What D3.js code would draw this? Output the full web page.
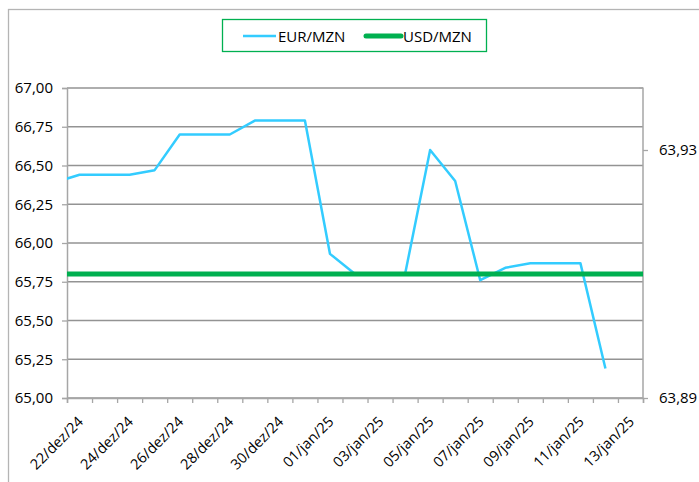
<!DOCTYPE html>
<html>
<head>
<meta charset="utf-8">
<script src="https://cdn.jsdelivr.net/npm/d3@7"></script>
<style>
body{margin:0;background:#fff;}
text{font-family:"Open Sans",sans-serif;fill:#000;}
</style>
</head>
<body>
<script>
// dias (o 21/dez e o 14/jan ficam fora da area visivel, so continuam as linhas)
var days = ["21/dez/24","22/dez/24","23/dez/24","24/dez/24","25/dez/24","26/dez/24","27/dez/24","28/dez/24","29/dez/24","30/dez/24","31/dez/24",
            "01/jan/25","02/jan/25","03/jan/25","04/jan/25","05/jan/25","06/jan/25","07/jan/25","08/jan/25","09/jan/25","10/jan/25","11/jan/25","12/jan/25","13/jan/25","14/jan/25"];
var shownDays = days.slice(1, 24);
var eurValues = [66.39,66.44,66.44,66.44,66.47,66.70,66.70,66.70,66.79,66.79,66.79,
                 65.93,65.80,65.80,65.80,66.60,66.40,65.76,65.84,65.87,65.87,65.87,65.19,null,null];
var usdValues = [63.91,63.91,63.91,63.91,63.91,63.91,63.91,63.91,63.91,63.91,63.91,
                 63.91,63.91,63.91,63.91,63.91,63.91,63.91,63.91,63.91,63.91,63.91,63.91,63.91,63.91];
var leftTicks = [65,65.25,65.5,65.75,66,66.25,66.5,66.75,67];
var rightTicks = [63.89,63.93];
var seriesNames = ["EUR/MZN","USD/MZN"];

var width = 699, height = 482;
var pLeft = 67, pRight = 643, pTop = 88, pBottom = 398;

var pt = d3.formatLocale({decimal:",",thousands:".",grouping:[3],currency:["",""]}).format(".2f");

var svg = d3.select("body").append("svg").attr("width",width).attr("height",height);

// moldura do grafico
svg.append("rect").attr("x",8.5).attr("y",9.5).attr("width",720).attr("height",500)
   .attr("fill","none").attr("stroke","#b4b4b4").attr("stroke-width",1.3);

var step = (pRight-pLeft)/shownDays.length;
var x = d3.scalePoint().domain(days).range([pLeft - 0.5*step, pRight + 0.5*step]);
var xBand = d3.scaleBand().domain(shownDays).range([pLeft,pRight]);
var xEdges = d3.scaleLinear().domain([0,shownDays.length]).range([pLeft,pRight]);
var y = d3.scaleLinear().domain([65,67]).range([pBottom,pTop]);
var y2 = d3.scaleLinear().domain([63.89,63.94]).range([pBottom,pTop]);

svg.append("clipPath").attr("id","plot").append("rect")
   .attr("x",pLeft).attr("y",pTop-10).attr("width",pRight-pLeft).attr("height",pBottom-pTop+20);

// linhas de grelha
svg.append("g").selectAll("line").data(leftTicks).enter().append("line")
   .attr("x1",pLeft).attr("x2",pRight)
   .attr("y1",function(d){return y(d);}).attr("y2",function(d){return y(d);})
   .attr("stroke","#939393").attr("stroke-width",1.5);

// eixo esquerdo
var yAxis = d3.axisLeft(y).tickValues(leftTicks).tickSize(5).tickPadding(9).tickFormat(pt);
var gy = svg.append("g").attr("transform","translate("+pLeft+",0)").call(yAxis);
// eixo direito
var y2Axis = d3.axisRight(y2).tickValues(rightTicks).tickSize(5).tickPadding(11).tickFormat(pt);
var gy2 = svg.append("g").attr("transform","translate("+pRight+",0)").call(y2Axis);
// eixo x (marcas entre categorias)
var xAxis = d3.axisBottom(xEdges).ticks(shownDays.length).tickSize(5).tickFormat("");
var gx = svg.append("g").attr("transform","translate(0,"+pBottom+")").call(xAxis);

[gy,gy2,gx].forEach(function(g){
  g.select(".domain").attr("stroke","#a6a6a6").attr("stroke-width",1.5);
  g.selectAll(".tick line").attr("stroke","#a6a6a6").attr("stroke-width",1.3);
  g.selectAll("text").style("font-family","'Open Sans',sans-serif").style("font-size","15px").attr("fill","#000");
});
gy2.select(".domain").attr("d","M0,"+(pTop-0.5)+"V"+pBottom);
gy2.append("line").attr("x1",-4).attr("x2",0).attr("y1",pTop).attr("y2",pTop).attr("stroke","#a6a6a6");

// rotulos do eixo x
svg.append("g").selectAll("text").data(shownDays.filter(function(d,i){return i%2==0;})).enter().append("text")
   .attr("transform",function(d){return "translate("+(xBand(d)+xBand.bandwidth()/2+1)+",419) rotate(-45)";})
   .attr("text-anchor","end").attr("dy","0.35em")
   .style("font-size","14.5px")
   .text(function(d){return d;});

var plot = svg.append("g").attr("clip-path","url(#plot)");

var lineEur = d3.line().defined(function(d){return d!=null;})
   .x(function(d,i){return x(days[i]);}).y(function(d){return y(d);});
var lineUsd = d3.line().x(function(d,i){return x(days[i]);}).y(function(d){return y2(d);});

plot.append("path").attr("d",lineEur(eurValues)).attr("fill","none")
   .attr("stroke","#33ccff").attr("stroke-width",2.5).attr("stroke-linejoin","round");
plot.append("path").attr("d",lineUsd(usdValues)).attr("fill","none")
   .attr("stroke","#00b050").attr("stroke-width",5);

// legenda
var leg = svg.append("g");
leg.append("rect").attr("x",222.5).attr("y",19.5).attr("width",264).attr("height",32)
   .attr("fill","#fff").attr("stroke","#00b050").attr("stroke-width",1.3);
leg.append("line").attr("x1",243).attr("x2",276).attr("y1",36).attr("y2",36)
   .attr("stroke","#33ccff").attr("stroke-width",2.5);
leg.append("text").attr("x",278).attr("y",41.5).style("font-size","15px").text(seriesNames[0]);
leg.append("line").attr("x1",366).attr("x2",401).attr("y1",36).attr("y2",36)
   .attr("stroke","#00b050").attr("stroke-width",5).attr("stroke-linecap","round");
leg.append("text").attr("x",403).attr("y",41.5).style("font-size","15px").text(seriesNames[1]);
</script>
</body>
</html>
